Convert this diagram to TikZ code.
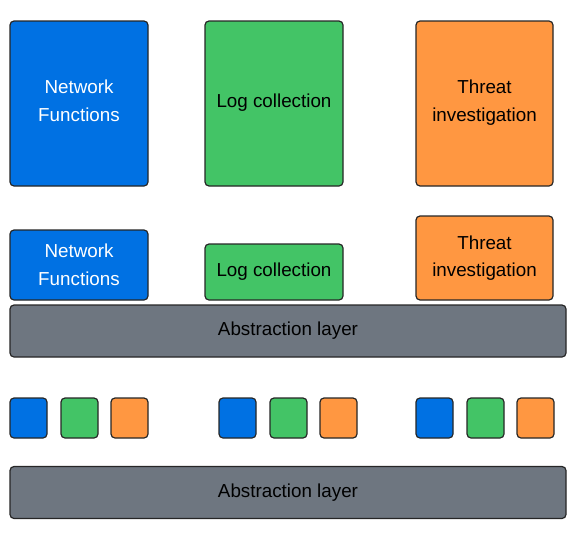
\documentclass[tikz,border=0pt]{standalone}
\usepackage{fontspec}
\setmainfont{Liberation Sans}
\usetikzlibrary{positioning}

\definecolor{netblue}{HTML}{0071E3}
\definecolor{loggreen}{HTML}{43C466}
\definecolor{threatorange}{HTML}{FF9741}
\definecolor{layergray}{HTML}{6E7680}

\begin{document}
\begin{tikzpicture}[x=1pt,y=-1pt,
    box/.style={draw=black!85,line width=1.2pt,rounded corners=4pt,inner sep=0pt,
      align=center,font=\fontsize{18.8}{27.5}\selectfont},
    net/.style={box,fill=netblue,text=white},
    log/.style={box,fill=loggreen,text=black},
    threat/.style={box,fill=threatorange,text=black},
    layer/.style={box,fill=layergray,text=black,minimum width=556pt,minimum height=52pt},
    tile/.style={box,minimum width=37pt,minimum height=40pt},
    up/.style={text depth=6pt}]
  \useasboundingbox (0,0) rectangle (575,546);

  % top row
  \node[net,up,minimum width=138pt,minimum height=165pt]    (net1)    at (79,103.5)  {Network\\Functions};
  \node[log,up,minimum width=138pt,minimum height=165pt]    (log1)    at (274,103.5) {Log collection};
  \node[threat,up,minimum width=137pt,minimum height=165pt] (threat1) at (484.5,103.5) {Threat\\investigation};

  % middle row
  \node[net,minimum width=138pt,minimum height=70pt]    (net2)    at (79,265)    {Network\\Functions};
  \node[log,minimum width=138pt,minimum height=56pt]    (log2)    at (274,272)   {Log collection};
  \node[threat,minimum width=137pt,minimum height=84pt] (threat2) at (484.5,258) {Threat\\investigation};
  \node[layer] (layer1) at (288,331) {Abstraction layer};

  % bottom row
  \foreach \gx/\gname in {10/a,219/b,416/c} {
    \node[tile,fill=netblue]      (tn\gname) at (\gx+18.5,418)   {};
    \node[tile,fill=loggreen]     (tl\gname) at (\gx+69.5,418)   {};
    \node[tile,fill=threatorange] (tt\gname) at (\gx+119.5,418)  {};
  }
  \node[layer] (layer2) at (288,492.5) {Abstraction layer};
\end{tikzpicture}
\end{document}
